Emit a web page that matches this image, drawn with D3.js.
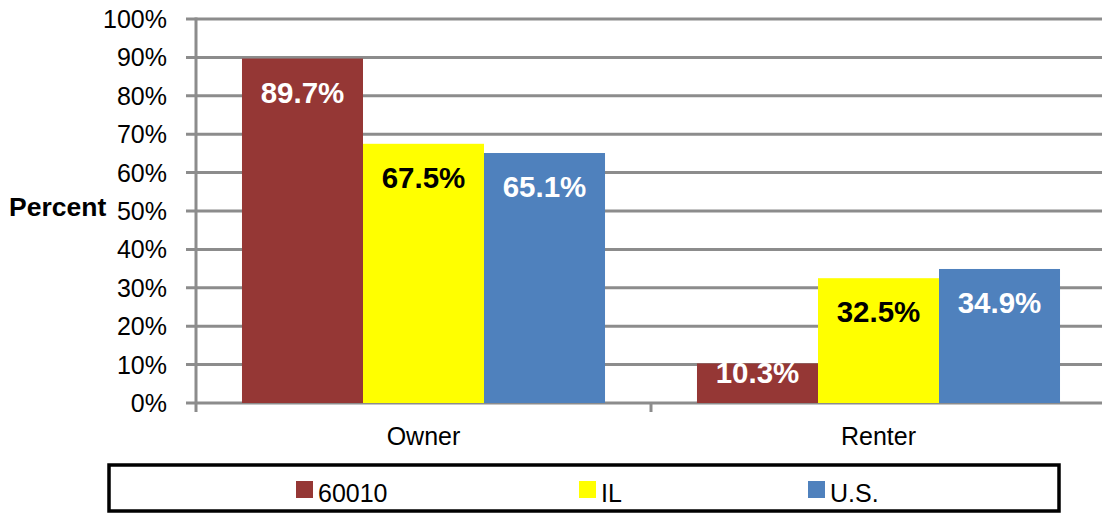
<!DOCTYPE html>
<html>
<head>
<meta charset="utf-8">
<script src="https://cdn.jsdelivr.net/npm/d3@7"></script>
<style>
  body { margin: 0; background: #fff; }
  svg { display: block; font-family: "Liberation Sans", Arial, sans-serif; }
</style>
</head>
<body>
<script>
const wdth = 1102;
const hght = 514;

const categories = ["Owner", "Renter"];
const seriesNames = ["60010", "IL", "U.S."];
const seriesColors = ["#953735", "#ffff00", "#4f81bd"];
const labelColors = ["#ffffff", "#000000", "#ffffff"];
const values60010 = [89.7, 10.3];
const valuesIL = [67.5, 32.5];
const valuesUS = [65.1, 34.9];
const yTicks = [0, 10, 20, 30, 40, 50, 60, 70, 80, 90, 100];

const seriesValues = [values60010, valuesIL, valuesUS];

const plotLeft = 196;
const plotRight = 1106;
const plotTop = 19;
const plotBottom = 403;
const gridColor = "#8c8c8c";

const svg = d3.select("body")
  .append("svg")
  .attr("width", wdth)
  .attr("height", hght);

const x = d3.scaleBand()
  .domain(categories)
  .range([plotLeft, plotRight])
  .paddingInner(0)
  .paddingOuter(0);

const xInner = d3.scaleBand()
  .domain(seriesNames)
  .range([0, x.bandwidth()])
  .paddingInner(0)
  .paddingOuter(0.38);

const y = d3.scaleLinear()
  .domain([0, 100])
  .range([plotBottom, plotTop]);

// gridlines (with the little tick stub left of the axis)
svg.append("g")
  .selectAll("line")
  .data(yTicks)
  .enter()
  .append("line")
  .attr("x1", plotLeft - 10)
  .attr("x2", plotRight)
  .attr("y1", d => y(d))
  .attr("y2", d => y(d))
  .attr("stroke", gridColor)
  .attr("stroke-width", 3);

// y tick labels
svg.append("g")
  .selectAll("text")
  .data(yTicks)
  .enter()
  .append("text")
  .attr("x", 167)
  .attr("y", d => y(d) + 9)
  .attr("text-anchor", "end")
  .attr("font-size", 25)
  .attr("fill", "#000")
  .text(d => d + "%");

svg.append("text")
  .attr("x", 9)
  .attr("y", 216)
  .attr("font-size", 26.5)
  .attr("font-weight", "bold")
  .text("Percent");

// bars
const groups = svg.append("g")
  .selectAll("g")
  .data(categories)
  .enter()
  .append("g")
  .attr("transform", d => "translate(" + x(d) + ",0)");

groups.selectAll("rect")
  .data((c, ci) => seriesNames.map((s, si) => ({ s, si, v: seriesValues[si][ci] })))
  .enter()
  .append("rect")
  .attr("x", d => xInner(d.s))
  .attr("width", xInner.bandwidth())
  .attr("y", d => y(d.v))
  .attr("height", d => plotBottom - y(d.v))
  .attr("fill", d => seriesColors[d.si]);

groups.selectAll("text")
  .data((c, ci) => seriesNames.map((s, si) => ({ s, si, v: seriesValues[si][ci] })))
  .enter()
  .append("text")
  .attr("x", d => xInner(d.s) + xInner.bandwidth() / 2)
  .attr("y", d => Math.min(y(d.v) + 44, plotBottom - 20))
  .attr("text-anchor", "middle")
  .attr("font-size", 29.5)
  .attr("font-weight", "bold")
  .attr("fill", d => labelColors[d.si])
  .text(d => d.v.toFixed(1) + "%");

// axes lines
svg.append("line")
  .attr("x1", plotLeft)
  .attr("x2", plotLeft)
  .attr("y1", plotTop - 1.5)
  .attr("y2", plotBottom + 9)
  .attr("stroke", gridColor)
  .attr("stroke-width", 3);

svg.append("g")
  .selectAll("line")
  .data(categories.slice(1))
  .enter()
  .append("line")
  .attr("x1", d => x(d))
  .attr("x2", d => x(d))
  .attr("y1", plotBottom)
  .attr("y2", plotBottom + 9)
  .attr("stroke", gridColor)
  .attr("stroke-width", 3);

// category labels
svg.append("g")
  .selectAll("text")
  .data(categories)
  .enter()
  .append("text")
  .attr("x", d => x(d) + x.bandwidth() / 2)
  .attr("y", 445)
  .attr("text-anchor", "middle")
  .attr("font-size", 25)
  .text(d => d);

// legend
const legendItemX = [296, 579, 808];

svg.append("rect")
  .attr("x", 109)
  .attr("y", 465)
  .attr("width", 950)
  .attr("height", 46)
  .attr("fill", "#fff")
  .attr("stroke", "#000")
  .attr("stroke-width", 3.5);

const legend = svg.append("g")
  .selectAll("g")
  .data(seriesNames)
  .enter()
  .append("g")
  .attr("transform", (d, i) => "translate(" + legendItemX[i] + ",481)");

legend.append("rect")
  .attr("width", 17)
  .attr("height", 17)
  .attr("fill", (d, i) => seriesColors[i]);

legend.append("text")
  .attr("x", 22)
  .attr("y", 21)
  .attr("font-size", 25)
  .text(d => d);
</script>
</body>
</html>
